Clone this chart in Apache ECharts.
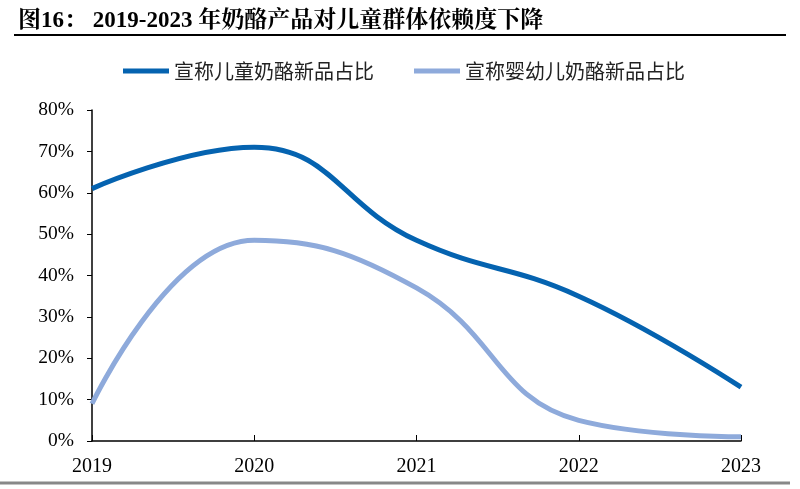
<!DOCTYPE html>
<html>
<head>
<meta charset="utf-8">
<script src="https://cdn.jsdelivr.net/npm/echarts@6/dist/echarts.min.js"></script>
<style>
html,body{margin:0;padding:0;background:#fff;}
#c{width:800px;height:489px;}
</style>
</head>
<body>
<div id="c"></div>
<script>
const titleText = '图16： 2019-2023 年奶酪产品对儿童群体依赖度下降';
const categories = ['2019', '2020', '2021', '2022', '2023'];
const seriesNames = ['宣称儿童奶酪新品占比', '宣称婴幼儿奶酪新品占比'];
const childShare = [61, 71, 48.5, 35, 13];
const infantShare = [9, 48.5, 37, 5, 1];

const serif = '"Liberation Serif", "Noto Serif CJK SC", "Noto Sans CJK SC", serif';
const chart = echarts.init(document.getElementById('c'));
chart.setOption({
  backgroundColor: '#fff',
  animation: false,
  title: {
    text: titleText,
    left: 13, top: 5,
    textStyle: {fontFamily: serif, fontWeight: 'bold', fontSize: 23, color: '#000'}
  },
  graphic: [
    {type: 'line', shape: {x1: 14, y1: 35, x2: 786, y2: 35}, style: {stroke: '#000', lineWidth: 2}},
    {type: 'line', shape: {x1: 0, y1: 483, x2: 790, y2: 483}, style: {stroke: '#888', lineWidth: 3}}
  ],
  legend: {
    top: 56, left: 118,
    itemWidth: 46, itemHeight: 5, itemGap: 40,
    icon: 'rect',
    textStyle: {fontFamily: '"Noto Sans CJK SC", sans-serif', fontSize: 20, color: '#222', padding: [0, 0, 0, 0]},
    data: seriesNames
  },
  grid: {left: 92, right: 59, top: 110, bottom: 48},
  xAxis: {
    type: 'category',
    data: categories,
    boundaryGap: false,
    axisLine: {lineStyle: {color: '#000', width: 1.5}},
    axisTick: {inside: true, length: 6, lineStyle: {color: '#000'}},
    axisLabel: {fontFamily: serif, fontSize: 20, color: '#000', margin: 16}
  },
  yAxis: {
    type: 'value',
    min: 0, max: 80, interval: 10,
    splitLine: {show: false},
    axisLine: {show: true, lineStyle: {color: '#000', width: 1.5}},
    axisTick: {show: true, length: 5, lineStyle: {color: '#000'}},
    axisLabel: {fontFamily: serif, fontSize: 19.5, color: '#000', formatter: '{value}%', margin: 18}
  },
  series: [
    {name: seriesNames[0], type: 'line', data: childShare, smooth: 0.45, symbol: 'none',
     lineStyle: {color: '#0563B0', width: 5}, itemStyle: {color: '#0563B0'}},
    {name: seriesNames[1], type: 'line', data: infantShare, smooth: 0.45, symbol: 'none',
     lineStyle: {color: '#8EAADB', width: 5}, itemStyle: {color: '#8EAADB'}}
  ]
});
</script>
</body>
</html>
